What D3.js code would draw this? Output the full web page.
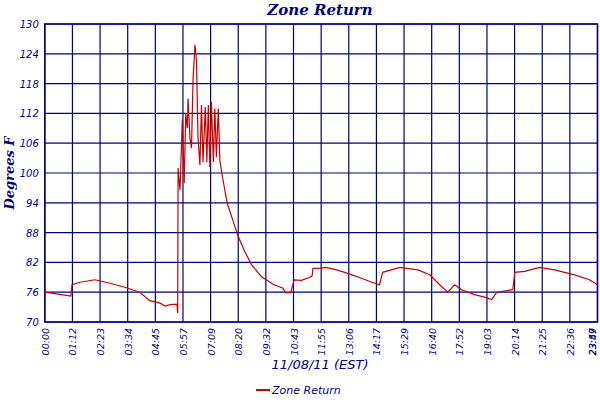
<!DOCTYPE html>
<html><head><meta charset="utf-8">
<script src="https://cdn.jsdelivr.net/npm/d3@7"></script>
<style>body{margin:0;background:#fff}text{font-family:"DejaVu Sans",sans-serif;font-style:italic;fill:#000080}</style>
</head><body><svg id="c" width="600" height="400"></svg>
<script>
// minutes since midnight, degrees F
const minutes = [0,34,68,71,92,131,170,209,248,274,301,314,327,345,347,348,350,353,359,364,368,372,374,379,383,387,392,396,400,405,409,413,419,423,427,431,435,440,444,448,453,457,463,476,492,505,522,540,566,596,622,628,642,651,670,692,698,700,718,735,757,783,809,854,874,882,927,974,1005,1031,1052,1070,1088,1122,1148,1167,1180,1222,1227,1253,1292,1331,1383,1422,1443];
const temps = [76,75.6,75.2,77.5,78,78.5,77.8,77,76,74.3,73.8,73.2,73.5,73.6,71.8,101,99,96.6,110.7,98,112,109,115,107,105,118.7,125.8,122.7,107,101.6,113.7,102.2,113.3,102.2,113.7,101.2,114.3,102.2,113,103.2,113,102.6,99.6,94,90.2,87.2,84.2,81.5,79.1,77.6,76.8,75.9,75.9,78.5,78.4,79,79.3,80.8,80.8,81,80.6,80,79.3,78,77.5,80,81,80.5,79.5,77.5,76,77.5,76.5,75.5,75,74.5,76,76.5,80,80.2,81,80.5,79.5,78.5,77.5];
const tickLabels = ["00:00","01:12","02:23","03:34","04:45","05:57","07:09","08:20","09:32","10:43","11:55","13:06","14:17","15:29","16:40","17:52","19:03","20:14","21:25","22:36","23:47"];
const yTicks = [70,76,82,88,94,100,106,112,118,124,130];

const L = 44.8, R = 597.5, T = 24, B = 322;
const svg = d3.select("#c");
const x = d3.scaleLinear().domain([0, 1443]).range([L, R]);
const y = d3.scaleLinear().domain([70, 130]).range([B, T]);
const step = 1443 / 20;
const tickMin = tickLabels.map((d, i) => i * step);

const g = svg.append("g");
g.selectAll(".vg").data(tickMin).join("line")
  .attr("x1", d => x(d)).attr("x2", d => x(d)).attr("y1", T).attr("y2", B)
  .attr("stroke", "#000080").attr("stroke-width", 1.2);
g.selectAll(".hg").data(yTicks).join("line")
  .attr("x1", L).attr("x2", R).attr("y1", d => y(d)).attr("y2", d => y(d))
  .attr("stroke", "#000080").attr("stroke-width", 1.2);
svg.append("rect").attr("x", L).attr("y", T).attr("width", R - L).attr("height", B - T)
  .attr("fill", "none").attr("stroke", "#000080").attr("stroke-width", 1.5);

svg.selectAll(".yl").data(yTicks).join("text")
  .attr("x", L - 6).attr("y", d => y(d) + 4).attr("text-anchor", "end")
  .style("font-size", "10px").text(d => d);

svg.selectAll(".xl").data(tickLabels).join("text")
  .attr("transform", (d, i) => `translate(${Math.min(x(tickMin[i]) + 4, 596)},${B + 6}) rotate(-90)`)
  .attr("text-anchor", "end").style("font-size", "9.5px").text(d => d);
svg.append("text").attr("transform", `translate(596,${B + 6}) rotate(-90)`)
  .attr("text-anchor", "end").style("font-size", "9.5px").text("23:59");

svg.append("path").datum(minutes.map((m, i) => [m, temps[i]]))
  .attr("fill", "none").attr("stroke", "#cc0000").attr("stroke-width", 1.2)
  .attr("d", d3.line().x(d => x(d[0])).y(d => y(d[1])));

svg.append("text").attr("x", 320).attr("y", 15).attr("text-anchor", "middle")
  .style("font-size", "15px").style("font-weight", "bold").style("font-family", "DejaVu Serif").text("Zone Return");
svg.append("text").attr("transform", `translate(14,${(T + B) / 2}) rotate(-90)`).attr("text-anchor", "middle")
  .style("font-size", "13px").style("font-weight", "bold").style("font-family", "DejaVu Serif").text("Degrees F");
svg.append("text").attr("x", 320).attr("y", 369).attr("text-anchor", "middle")
  .style("font-size", "13px").text("11/08/11 (EST)");
svg.append("line").attr("x1", 256).attr("x2", 270).attr("y1", 390).attr("y2", 390)
  .attr("stroke", "#cc0000").attr("stroke-width", 2);
svg.append("text").attr("x", 272).attr("y", 394).style("font-size", "11px").text("Zone Return");
</script></body></html>
